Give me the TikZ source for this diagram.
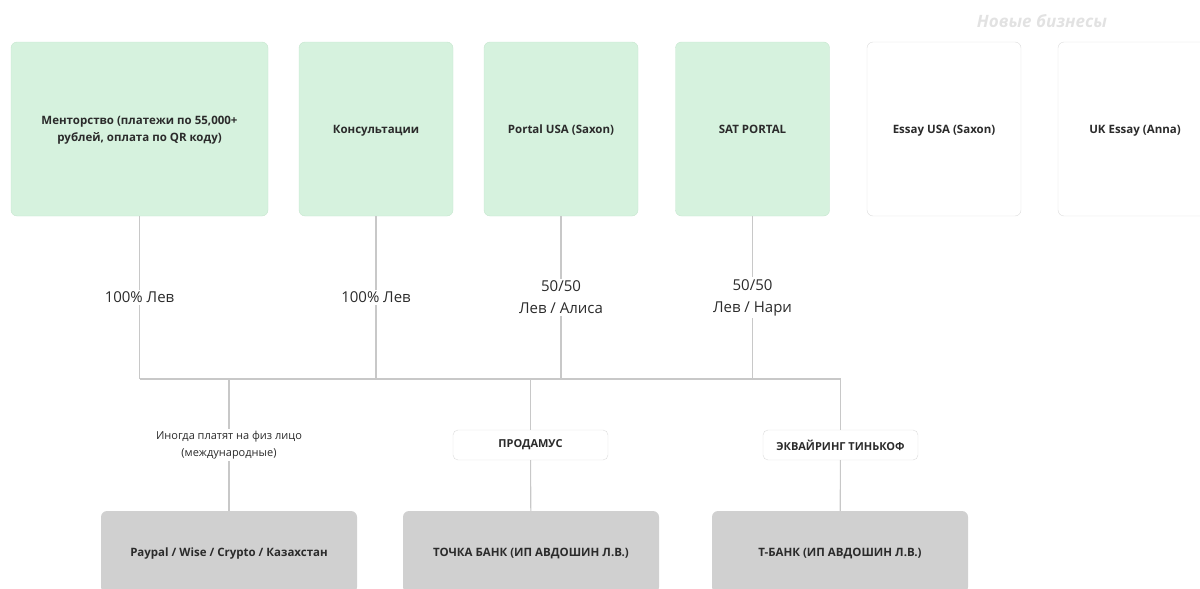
\documentclass[tikz,border=0pt]{standalone}
\usepackage{fontspec}
\setmainfont{Open Sans}
\definecolor{greenfill}{HTML}{D6F2DE}
\definecolor{greenline}{HTML}{C6E6CF}
\definecolor{greyfill}{HTML}{D0D0D0}
\definecolor{boxline}{HTML}{DCDCDC}
\definecolor{wireline}{HTML}{C8C8C8}
\definecolor{inktext}{HTML}{2B2B2B}
\definecolor{titletext}{HTML}{E2E2E2}
\begin{document}
\begin{tikzpicture}
[x=1pt,y=-1pt,
  bizdecorate/.style={shape=rectangle,rounded corners=6pt,draw=greenline,fill=greenfill,
    minimum height=174pt,align=center,text=inktext,text depth=0pt,
    font=\fontsize{11.5}{17}\selectfont\bfseries},
  newdecorate/.style={bizdecorate,draw=boxline,fill=white},
  bankdecorate/.style={shape=rectangle,rounded corners=6pt,fill=greyfill,minimum width=256pt,
    minimum height=82pt,text=inktext,text depth=0pt,font=\fontsize{11.5}{17}\selectfont\bfseries},
  gatedecorate/.style={shape=rectangle,rounded corners=5pt,draw=boxline,fill=white,
    minimum width=155pt,minimum height=30pt,text=inktext,font=\fontsize{11}{13}\selectfont\bfseries},
  sharedecorate/.style={fill=white,align=center,text=inktext,inner sep=2pt,
    font=\fontsize{15}{22}\selectfont},
  notedecorate/.style={fill=white,align=center,text=inktext,inner sep=2pt,
    font=\fontsize{11}{17}\selectfont},
  linedecorate/.style={-,line width=1.1pt,draw=wireline}]
\useasboundingbox (0,0) rectangle (1200,589);
%% businesses
\foreach \nodename/\x/\w/\kind/\caption in {mentor/139.5/257/bizdecorate/{Менторство (платежи по 55,000+\\рублей, оплата по QR коду)},
  consult/376/154/bizdecorate/Консультации, portal/561/154/bizdecorate/{Portal USA (Saxon)},
  sat/752.5/154/bizdecorate/SAT PORTAL, essay/944/154/newdecorate/{Essay USA (Saxon)},
  ukessay/1135/154/newdecorate/{UK Essay (Anna)}} {
  \node (\nodename) at (\x,129) [\kind,minimum width=\w pt] {\caption};
}
\node (newtitle) at (1042,21) [text=titletext,font=\fontsize{17}{20}\selectfont\bfseries\itshape] {Новые бизнесы};
%% payment gateways and banks
\node (prodamus) at (530.5,445) [gatedecorate] {ПРОДАМУС};
\node (tinkoff) at (840.5,445) [gatedecorate] {ЭКВАЙРИНГ ТИНЬКОФ};
\node (paypal) at (229,552) [bankdecorate] {Paypal / Wise / Crypto / Казахстан};
\node (tochka) at (531,552) [bankdecorate] {ТОЧКА БАНК (ИП АВДОШИН Л.В.)};
\node (tbank) at (840,552) [bankdecorate] {Т-БАНК (ИП АВДОШИН Л.В.)};
%% bus points
\foreach \busname/\x in {bm/139.5, bc/376, bp/561, bs/752.5, bpay/229, btoch/530.5, btin/840.5}
  \coordinate (\busname) at (\x,379);
%% edges or lines
\draw[linedecorate] (bm) -- (btin);
\path
\foreach \startnode/\endnode/\share in {mentor/bm/{100\% Лев}, consult/bc/{100\% Лев},
  portal/bp/{50/50\\Лев / Алиса}, sat/bs/{50/50\\Лев / Нари}} {
  (\startnode) edge[linedecorate] node[sharedecorate] {\share} (\endnode)
};
\path
\foreach \startnode/\endnode in {btoch/prodamus, prodamus/tochka, btin/tinkoff, tinkoff/tbank} {
  (\startnode) edge[linedecorate] (\endnode)
};
\path (bpay) edge[linedecorate] node[notedecorate] {Иногда платят на физ лицо\\(международные)} (paypal);
\end{tikzpicture}
\end{document}
